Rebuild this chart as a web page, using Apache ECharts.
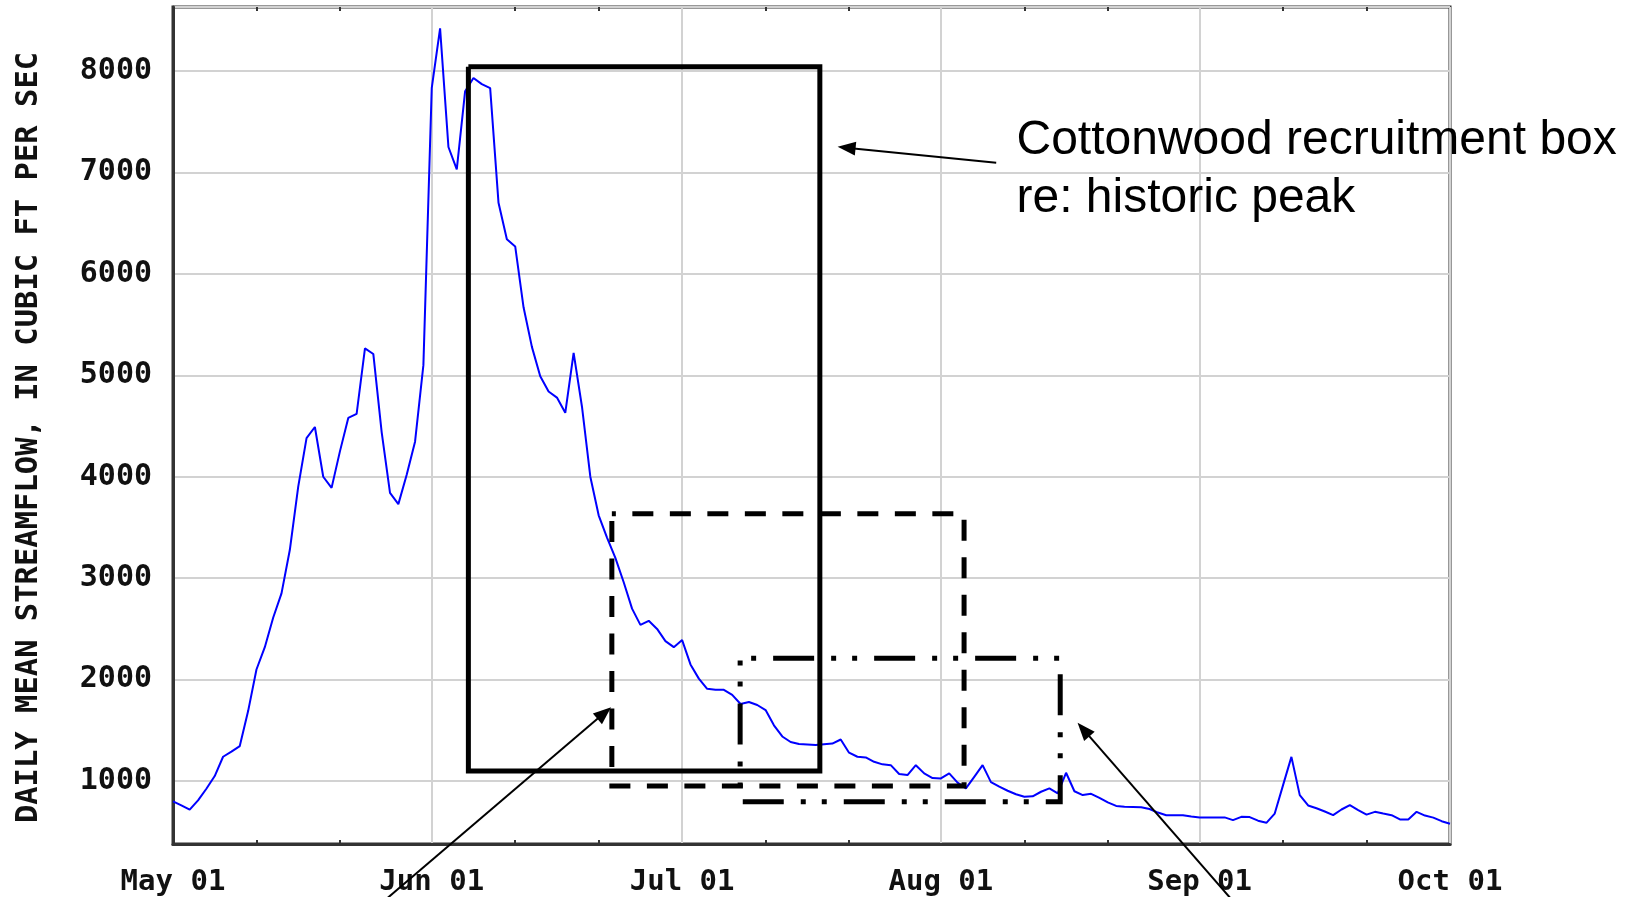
<!DOCTYPE html>
<html>
<head>
<meta charset="utf-8">
<script src="https://cdn.jsdelivr.net/npm/echarts@6/dist/echarts.min.js"></script>
<style>
html, body { margin: 0; padding: 0; background: #ffffff; }
#chart { width: 1635px; height: 897px; }
</style>
</head>
<body>
<div id="chart"></div>
<script>
// ---- Daily mean streamflow (cfs) ----
const mayFlow = [800, 760, 718, 810, 925, 1050, 1240, 1290, 1345, 1690,
                 2100, 2320, 2610, 2850, 3280, 3900, 4380, 4490, 4000, 3890,
                 4250, 4580, 4620, 5265, 5210, 4440, 3840, 3730, 4020, 4345, 5100];
const junFlow = [7830, 8420, 7250, 7030, 7800, 7930, 7870, 7830, 6700, 6340,
                 6270, 5670, 5280, 4990, 4840, 4780, 4630, 5220, 4690, 4000,
                 3620, 3400, 3200, 2960, 2700, 2540, 2580, 2500, 2380, 2320];
const julFlow = [2390, 2150, 2010, 1910, 1900, 1900, 1850, 1760, 1780, 1750,
                 1700, 1550, 1440, 1385, 1365, 1360, 1355, 1364, 1370, 1410,
                 1280, 1240, 1233, 1190, 1165, 1157, 1070, 1059, 1157, 1076, 1030];
const augFlow = [1026, 1076, 985, 928, 1042, 1157, 990, 945, 905, 870,
                 845, 850, 895, 928, 880, 1082, 900, 862, 875, 835,
                 790, 755, 746, 745, 742, 725, 690, 664, 664, 664, 650];
const sepFlow = [642, 642, 642, 642, 615, 648, 645, 610, 589, 680,
                 960, 1239, 862, 760, 732, 700, 664, 720, 763, 714,
                 670, 697, 680, 664, 622, 622, 697, 660, 640, 605];
const octFlow = [580];

const monthNames = ['May', 'Jun', 'Jul', 'Aug', 'Sep', 'Oct'];
const monthLengths = [31, 30, 31, 31, 30, 1];

// Annotation boxes: [start day index, end day index] x [low cfs, high cfs]
const peakBoxX = [35.39, 77.50];  const peakBoxY = [1100, 8040];
const dashBoxX = [52.58, 94.78];  const dashBoxY = [952, 3634];
const dotBoxX  = [67.95, 106.30]; const dotBoxY  = [796, 2210];

// Arrows: [tail, tip] in [day index, cfs]
const arrowPeak = [[98.63, 7094], [79.63, 7252]];
const arrowDash = [[25.53, -164], [52.49, 1729]];
const arrowDot  = [[126.8, -164], [108.38, 1574]];
const noteAnchor = [101.3, 7600];
const noteText = 'Cottonwood recruitment box\nre: historic peak';

const yTitle = 'DAILY MEAN STREAMFLOW, IN CUBIC FT PER SEC';

// ---- build ----
const dates = [];
monthNames.forEach((m, k) => {
  for (let d = 1; d <= monthLengths[k]; d++) dates.push(m + ' ' + String(d).padStart(2, '0'));
});
const flow = [].concat(mayFlow, junFlow, julFlow, augFlow, sepFlow, octFlow);

function rectPath(xr, yr) {
  return [[xr[0], yr[1]], [xr[1], yr[1]], [xr[1], yr[0]], [xr[0], yr[0]], [xr[0], yr[1]]];
}

const monoFont = '"DejaVu Sans Mono", "Liberation Mono", monospace';
const isMonthStart = (i, v) => / 01$/.test(v);
const isMinorTick = (i, v) => / (11|21)$/.test(v);
const borderColor = '#333333';
const gridColor = '#d2d2d2';

const chart = echarts.init(document.getElementById('chart'), null, { renderer: 'canvas' });

function boxSeries(xr, yr, type, offset) {
  return {
    type: 'line',
    xAxisIndex: 2,
    yAxisIndex: 0,
    data: rectPath(xr, yr),
    symbol: 'none',
    silent: true,
    z: 5,
    lineStyle: { color: '#000000', width: 5, type: type, dashOffset: offset || 0, join: 'miter', cap: 'butt' }
  };
}

chart.setOption({
  animation: false,
  backgroundColor: '#ffffff',
  grid: {
    left: 173, top: 7, width: 1277, height: 837,
    show: true, borderColor: borderColor, borderWidth: 3, backgroundColor: '#ffffff'
  },
  xAxis: [
    {
      type: 'category', data: dates, boundaryGap: false, position: 'bottom',
      axisLine: { show: true, lineStyle: { color: borderColor, width: 3 } },
      axisTick: { show: true, inside: true, length: 4, interval: isMinorTick, lineStyle: { color: borderColor, width: 2 } },
      axisLabel: { interval: isMonthStart, fontFamily: monoFont, fontWeight: 'bold', fontSize: 29, color: '#111111', margin: 24 },
      splitLine: { show: true, interval: isMonthStart, lineStyle: { color: gridColor, width: 2 } }
    },
    {
      type: 'category', data: dates, boundaryGap: false, position: 'top',
      axisLine: { show: false },
      axisTick: { show: true, inside: true, length: 4, interval: isMinorTick, lineStyle: { color: borderColor, width: 2 } },
      axisLabel: { show: false },
      splitLine: { show: false }
    },
    { type: 'value', min: 0, max: dates.length - 1, show: false }
  ],
  yAxis: {
    type: 'value', min: 380, max: 8630, splitNumber: 8, minInterval: 1000, maxInterval: 1000,
    axisLine: { show: true, lineStyle: { color: borderColor, width: 3 } },
    axisTick: { show: false },
    axisLabel: { showMinLabel: false, showMaxLabel: false, fontFamily: monoFont, fontWeight: 'bold', fontSize: 30,
                 color: '#111111', margin: 21, formatter: v => String(v), padding: [4, 0, 0, 0] },
    splitLine: { show: true, lineStyle: { color: gridColor, width: 2 } },
    name: yTitle, nameLocation: 'middle', nameGap: 128,
    nameTextStyle: { fontFamily: monoFont, fontWeight: 'bold', fontSize: 30.5, color: '#111111', padding: [0, 24, 0, 0] }
  },
  series: [
    {
      type: 'line', xAxisIndex: 0, yAxisIndex: 0, data: flow, symbol: 'none', z: 3,
      lineStyle: { color: '#0000ff', width: 2 }
    },
    boxSeries(peakBoxX, peakBoxY, 'solid', 0),
    boxSeries(dashBoxX, dashBoxY, [21, 16.5], 17),
    boxSeries(dotBoxX, dotBoxY, [41, 17, 5, 16, 5, 17], 68)
  ]
});

function px(p) { return chart.convertToPixel({ xAxisIndex: 2, yAxisIndex: 0 }, p); }

function arrow(pair) {
  const a = px(pair[0]), b = px(pair[1]);
  const dx = b[0] - a[0], dy = b[1] - a[1];
  const len = Math.sqrt(dx * dx + dy * dy);
  const ux = dx / len, uy = dy / len;
  const hl = 18, hw = 7;
  const bx = b[0] - ux * hl, by = b[1] - uy * hl;
  return [
    { type: 'line', z: 100, silent: true, shape: { x1: a[0], y1: a[1], x2: bx + ux * 2, y2: by + uy * 2 },
      style: { stroke: '#000000', lineWidth: 2 } },
    { type: 'polygon', z: 100, silent: true,
      shape: { points: [[b[0], b[1]], [bx - uy * hw, by + ux * hw], [bx + uy * hw, by - ux * hw]] },
      style: { fill: '#000000' } }
  ];
}

const np = px(noteAnchor);
chart.setOption({
  graphic: [].concat(
    arrow(arrowPeak), arrow(arrowDash), arrow(arrowDot),
    [{ type: 'text', z: 100, silent: true,
       style: { x: np[0] - 2, y: np[1], text: noteText, font: '48px "Liberation Sans", Arial, sans-serif',
                fill: '#000000', lineHeight: 58, textAlign: 'left', textVerticalAlign: 'top',
                align: 'left', verticalAlign: 'top' } }]
  )
});
</script>
</body>
</html>
